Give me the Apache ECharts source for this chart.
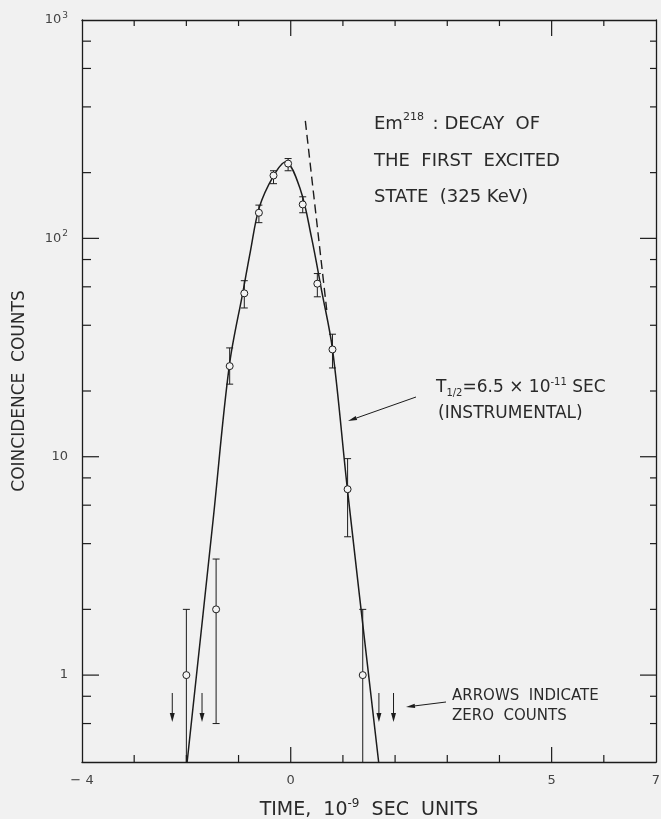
<!DOCTYPE html>
<html><head><meta charset="utf-8">
<script src="https://cdn.jsdelivr.net/npm/echarts@6/dist/echarts.min.js"></script>
<style>html,body{margin:0;padding:0;background:#f1f1f1;}#c{width:661px;height:819px;}</style>
</head><body><div id="c"></div>
<script>
// ---- data ----
const pointTimes  = [-2.00, -1.43, -1.17, -0.89, -0.61, -0.33, -0.05, 0.23, 0.51, 0.80, 1.09, 1.38];
const pointCounts = [1, 2, 26, 56, 131, 194, 220, 143, 62, 31, 7.1, 1];
const errorHigh   = [2.0, 3.4, 31.5, 64, 142, 204, 232, 155, 69, 36.4, 9.8, 2.0];
const errorLow    = [0, 0.6, 21.5, 48, 118, 178, 204, 131, 54, 25.5, 4.3, 0];
const zeroCountTimes = [-2.27, -1.70, 1.69, 1.97];
const curveTimes  = [-1.985, -1.485, -1.178, -0.909, -0.774, -0.601, -0.332, -0.10, 0.186, 0.398, 0.590, 0.801, 1.089, 1.685];
const curveCounts = [0.40, 5.2, 26, 58, 87, 139, 193, 224, 167, 101, 58, 31, 7.0, 0.40];
const slopeTimes  = [0.28, 0.69];
const slopeCounts = [345, 47];
const xLabelValues = [-4, 0, 5, 7];
const xMajorTicks = [0, 5];
const xMinorTicks = [-3, -2, -1, 1, 2, 3, 4, 6];
const yMajorTicks = [1, 10, 100];
const yMinorTicks = [0.6, 0.8, 2, 4, 6, 8, 20, 40, 60, 80, 200, 400, 600, 800];
const yLabelText = {1: '1', 10: '10', 100: '10{s|2}', 1000: '10{s|3}'};

const X_MIN = -4, X_MAX = 7, Y_MIN = 0.4, Y_MAX = 1000;
const INK = '#1c1c1c';
const TXT = '#2a2a2a';
const FONT = 'DejaVu Sans';

const chart = echarts.init(document.getElementById('c'));

function arrow(x1, y1, x2, y2) {
  const dx = x2 - x1, dy = y2 - y1, L = Math.hypot(dx, dy);
  const ux = dx / L, uy = dy / L, px = -uy, py = ux;
  const hl = 9, hw = 2.2;
  const bx = x2 - ux * hl, by = y2 - uy * hl;
  return [
    {type: 'line', shape: {x1: x1, y1: y1, x2: bx, y2: by}, style: {stroke: INK, lineWidth: 1}},
    {type: 'polygon', shape: {points: [[x2, y2], [bx + px * hw, by + py * hw], [bx - px * hw, by - py * hw]]}, style: {fill: INK}}
  ];
}

const txt = (x, y, text, size, rich) => ({
  type: 'text', x: x, y: y,
  style: {text: text, font: size + 'px "' + FONT + '"', fill: TXT, verticalAlign: 'middle', rich: rich || {}}
});

const axisLineStyle = {color: INK, width: 1.3};

const option = {
  backgroundColor: '#f1f1f1',
  animation: false,
  grid: {left: 82, right: 5, top: 20, bottom: 57, outerBoundsMode: 'none', containLabel: false},
  xAxis: [{
    type: 'value', min: X_MIN, max: X_MAX, interval: 1, position: 'bottom',
    axisLine: {onZero: false, lineStyle: axisLineStyle},
    axisTick: {show: false}, splitLine: {show: false},
    axisLabel: {
      margin: 12, color: '#444', fontFamily: FONT, fontSize: 13,
      formatter: v => xLabelValues.includes(v) ? (v < 0 ? '\u2212 ' + Math.abs(v) : String(v)) : ''
    },
    name: 'TIME,  10{s|-9}  SEC  UNITS', nameLocation: 'middle', nameGap: 36,
    nameTextStyle: {color: TXT, fontFamily: FONT, fontSize: 19,
      rich: {s: {fontSize: 12, fontFamily: FONT, color: TXT, padding: [0, 0, 12, 0]}}}
  }, {
    type: 'value', min: X_MIN, max: X_MAX, position: 'top',
    axisLine: {onZero: false, lineStyle: axisLineStyle},
    axisTick: {show: false}, axisLabel: {show: false}, splitLine: {show: false}
  }],
  yAxis: [{
    type: 'log', logBase: 10, min: Y_MIN, max: Y_MAX, position: 'left',
    axisLine: {show: true, onZero: false, lineStyle: axisLineStyle},
    axisTick: {show: false}, splitLine: {show: false},
    axisLabel: {
      margin: 14, color: '#444', fontFamily: FONT, fontSize: 13,
      formatter: v => yLabelText[Math.round(v * 1000) / 1000] || '',
      rich: {s: {fontSize: 9, fontFamily: FONT, color: '#444', padding: [0, 0, 9, 1]}}
    },
    name: 'COINCIDENCE  COUNTS', nameLocation: 'middle', nameGap: 54, nameRotate: 90,
    nameTextStyle: {color: TXT, fontFamily: FONT, fontSize: 17}
  }, {
    type: 'log', logBase: 10, min: Y_MIN, max: Y_MAX, position: 'right',
    axisLine: {show: true, onZero: false, lineStyle: axisLineStyle},
    axisTick: {show: false}, axisLabel: {show: false}, splitLine: {show: false}
  }],
  series: [
    { // x ticks, bottom and top, pointing inward
      type: 'custom', silent: true, z: 1,
      data: xMajorTicks.map(v => [v, 1, 1]).concat(xMinorTicks.map(v => [v, 1, 0])),
      renderItem: (params, api) => {
        const cs = params.coordSys;
        const x = api.coord([api.value(0), 1])[0];
        const major = api.value(2) === 1;
        const lb = major ? 15 : 7, lt = major ? 16 : 6;
        const st = {stroke: INK, lineWidth: 1.2};
        return {type: 'group', children: [
          {type: 'line', shape: {x1: x, y1: cs.y + cs.height, x2: x, y2: cs.y + cs.height - lb}, style: st},
          {type: 'line', shape: {x1: x, y1: cs.y, x2: x, y2: cs.y + lt}, style: st}
        ]};
      }
    },
    { // y ticks, left and right
      type: 'custom', silent: true, z: 1,
      data: yMajorTicks.map(v => [0, v, 1]).concat(yMinorTicks.map(v => [0, v, 0])),
      renderItem: (params, api) => {
        const cs = params.coordSys;
        const y = api.coord([0, api.value(1)])[1];
        const major = api.value(2) === 1;
        const ll = major ? 17 : 9, lr = major ? 16 : 6;
        const st = {stroke: INK, lineWidth: 1.2};
        return {type: 'group', children: [
          {type: 'line', shape: {x1: cs.x, y1: y, x2: cs.x + ll, y2: y}, style: st},
          {type: 'line', shape: {x1: cs.x + cs.width, y1: y, x2: cs.x + cs.width - lr, y2: y}, style: st}
        ]};
      }
    },
    { // error bars
      type: 'custom', silent: true, z: 2,
      data: pointTimes.map((t, i) => [t, pointCounts[i], errorLow[i], errorHigh[i]]),
      renderItem: (params, api) => {
        const cs = params.coordSys;
        const t = api.value(0);
        const top = api.coord([t, api.value(3)]);
        const lowV = api.value(2);
        const clipped = !(lowV > Y_MIN);
        const bot = clipped ? [top[0], cs.y + cs.height] : api.coord([t, lowV]);
        const st = {stroke: INK, lineWidth: 1};
        const ch = [
          {type: 'line', shape: {x1: top[0], y1: top[1], x2: bot[0], y2: bot[1]}, style: st},
          {type: 'line', shape: {x1: top[0] - 3.5, y1: top[1], x2: top[0] + 3.5, y2: top[1]}, style: st}
        ];
        if (!clipped) ch.push({type: 'line', shape: {x1: bot[0] - 3.5, y1: bot[1], x2: bot[0] + 3.5, y2: bot[1]}, style: st});
        return {type: 'group', children: ch};
      }
    },
    { // fitted curve
      type: 'line', z: 3, smooth: 0.35, showSymbol: false, silent: true, clip: true,
      data: curveTimes.map((t, i) => [t, curveCounts[i]]),
      lineStyle: {color: INK, width: 1.5}
    },
    { // dashed slope line
      type: 'line', z: 3, showSymbol: false, silent: true,
      data: slopeTimes.map((t, i) => [t, slopeCounts[i]]),
      lineStyle: {color: INK, width: 1.4, type: [9, 5]}
    },
    { // measured points
      type: 'scatter', z: 4, symbol: 'circle', symbolSize: 7, silent: true,
      data: pointTimes.map((t, i) => [t, pointCounts[i]]),
      itemStyle: {color: '#f4f4f4', borderColor: INK, borderWidth: 1, opacity: 1}
    },
    { // zero-count arrows
      type: 'custom', silent: true, z: 3,
      data: zeroCountTimes.map(t => [t, 1]),
      renderItem: (params, api) => {
        const cs = params.coordSys;
        const x = api.coord([api.value(0), 1])[0];
        const yb = cs.y + cs.height;
        const yTop = yb - 69, yTip = yb - 40;
        return {type: 'group', children: [
          {type: 'line', shape: {x1: x, y1: yTop, x2: x, y2: yTip - 7}, style: {stroke: INK, lineWidth: 1}},
          {type: 'polygon', shape: {points: [[x, yTip], [x - 2.5, yTip - 9], [x + 2.5, yTip - 9]]}, style: {fill: INK}}
        ]};
      }
    }
  ],
  graphic: [
    txt(374, 124, 'Em{s|218} : DECAY  OF', 18, {s: {fontSize: 11, fontFamily: FONT, fill: TXT, padding: [0, 3, 14, 0]}}),
    txt(374, 161, 'THE  FIRST  EXCITED', 18),
    txt(374, 197, 'STATE  (325 KeV)', 18),
    txt(436, 388, 'T{b|1/2}=6.5 × 10{s|-11} SEC', 17, {
      s: {fontSize: 10, fontFamily: FONT, fill: TXT, padding: [0, 0, 12, 0]},
      b: {fontSize: 10, fontFamily: FONT, fill: TXT, padding: [10, 0, 0, 0]}}),
    txt(438, 414, '(INSTRUMENTAL)', 17),
    txt(452, 696, 'ARROWS  INDICATE', 15),
    txt(452, 716, 'ZERO  COUNTS', 15)
  ].concat(arrow(416, 397, 348, 421)).concat(arrow(446, 702, 406, 707))
};
chart.setOption(option);
</script>
</body></html>
